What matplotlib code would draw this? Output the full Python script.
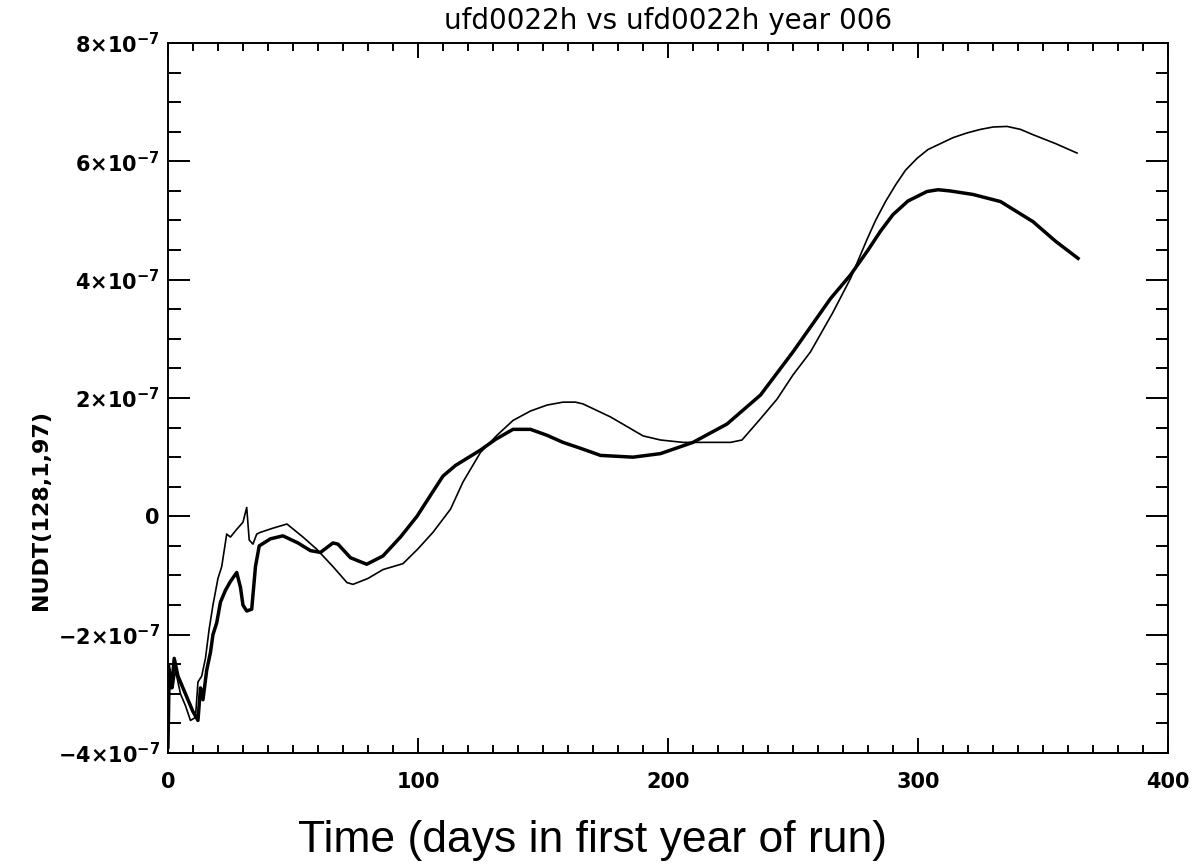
import matplotlib
matplotlib.use("Agg")
import matplotlib.pyplot as plt
from matplotlib.ticker import MultipleLocator, FuncFormatter

# thick curve: day, value (units of 1e-7)
thick_days = [0, 0.5, 1.5, 2.5, 4, 6, 8, 10, 12, 13, 14, 15.5, 17, 18, 19.5,
              21, 23, 25, 27.5, 29, 30, 31.5, 33.5, 35, 36.5, 41, 46, 52, 57,
              61, 66, 68, 73, 79.5, 86, 93, 99.6, 106, 110, 115, 120, 125, 131,
              138, 145, 151.6, 158, 165, 173, 186, 197, 210, 223.6, 237, 250,
              265, 273, 280, 285, 290, 296, 303.6, 308, 312.8, 322, 333, 346,
              355, 364]
thick_vals = [-3.9, -2.6, -2.9, -2.4, -2.7, -2.9, -3.1, -3.3, -3.45, -2.9, -3.1,
              -2.6, -2.3, -2.0, -1.8, -1.45, -1.25, -1.1, -0.95, -1.2, -1.5, -1.6,
              -1.57, -0.85, -0.5, -0.38, -0.33, -0.45, -0.58, -0.61, -0.45, -0.47,
              -0.7, -0.81, -0.67, -0.35, 0.0, 0.42, 0.68, 0.86, 0.99, 1.12, 1.3,
              1.47, 1.47, 1.37, 1.25, 1.15, 1.03, 1.0, 1.06, 1.25, 1.56, 2.05, 2.78,
              3.68, 4.08, 4.5, 4.82, 5.1, 5.33, 5.49, 5.52, 5.5, 5.44, 5.32, 4.98,
              4.65, 4.36]

# thin curve
thin_days = [0.5, 2, 3, 5, 7, 9, 11, 12, 13.5, 15, 16.5, 18, 20, 21.5, 23.5, 25,
             27.5, 30, 31.5, 32.5, 34, 35.5, 37, 42, 47.6, 54, 59.6, 66, 71.6, 74,
             80, 86, 94, 100, 106, 113, 118, 125, 131.6, 138, 145, 151.6, 158, 163,
             166, 177, 190, 197, 206, 225, 229.6, 237, 243.6, 250, 257, 266, 273,
             279.6, 283, 287, 291, 295, 299.6, 304, 309, 314, 319.6, 325, 330,
             335.6, 341, 346, 355, 363.6]
thin_vals = [-2.5, -2.9, -2.6, -3.0, -3.2, -3.45, -3.4, -2.8, -2.7, -2.4, -1.9,
             -1.5, -1.05, -0.85, -0.3, -0.35, -0.22, -0.1, 0.15, -0.4, -0.47, -0.3,
             -0.27, -0.2, -0.13, -0.35, -0.56, -0.85, -1.12, -1.15, -1.05, -0.9,
             -0.8, -0.55, -0.27, 0.12, 0.58, 1.08, 1.37, 1.62, 1.78, 1.88, 1.93,
             1.93, 1.9, 1.68, 1.36, 1.29, 1.25, 1.25, 1.29, 1.65, 1.98, 2.39, 2.78,
             3.45, 4.02, 4.68, 5.0, 5.32, 5.6, 5.85, 6.05, 6.2, 6.3, 6.4, 6.48,
             6.54, 6.58, 6.59, 6.54, 6.45, 6.3, 6.14]

title = "ufd0022h vs ufd0022h year 006"
ylabel = "NUDT(128,1,97)"
xlabel = "Time (days in first year of run)"


def sci_label(v, pos):
    m = round(v / 1e-7)
    if m == 0:
        return "0"
    sign = "\u2212" if m < 0 else ""
    return f"{sign}{abs(m)}\u00d710$^{{\\mathbf{{\u22127}}}}$"


plt.rcParams["mathtext.default"] = "bf"

fig = plt.figure(figsize=(11.92, 8.67), dpi=100)
ax = fig.add_axes([0.1409, 0.1315, 0.8390, 0.8189])

ax.plot(thin_days, [v * 1e-7 for v in thin_vals], color="black", linewidth=1.2)
ax.plot(thick_days, [v * 1e-7 for v in thick_vals], color="black", linewidth=2.5)

ax.set_xlim(0, 400)
ax.set_ylim(-4e-7, 8e-7)
ax.xaxis.set_major_locator(MultipleLocator(100))
ax.xaxis.set_minor_locator(MultipleLocator(10))
ax.yaxis.set_major_locator(MultipleLocator(2e-7))
ax.yaxis.set_minor_locator(MultipleLocator(0.5e-7))
ax.yaxis.set_major_formatter(FuncFormatter(sci_label))

ax.tick_params(axis="both", which="both", direction="in", top=True, right=True,
               width=1.4, labelsize=15)
ax.tick_params(axis="x", which="major", length=11, pad=14)
ax.tick_params(axis="x", which="minor", length=6)
ax.tick_params(axis="y", which="major", length=16, pad=6)
ax.tick_params(axis="y", which="minor", length=9)
for lab in ax.get_xticklabels() + ax.get_yticklabels():
    lab.set_fontweight("bold")
for s in ax.spines.values():
    s.set_linewidth(1.4)

ax.set_title(title, fontsize=20, pad=10)
fig.text(0.034, 0.412, ylabel, rotation=90, fontsize=16, fontweight="bold",
         ha="center", va="center")
fig.text(0.497, 0.031, xlabel, family="Liberation Sans", fontsize=32,
         ha="center", va="center")

fig.savefig("out.png", dpi=100)
